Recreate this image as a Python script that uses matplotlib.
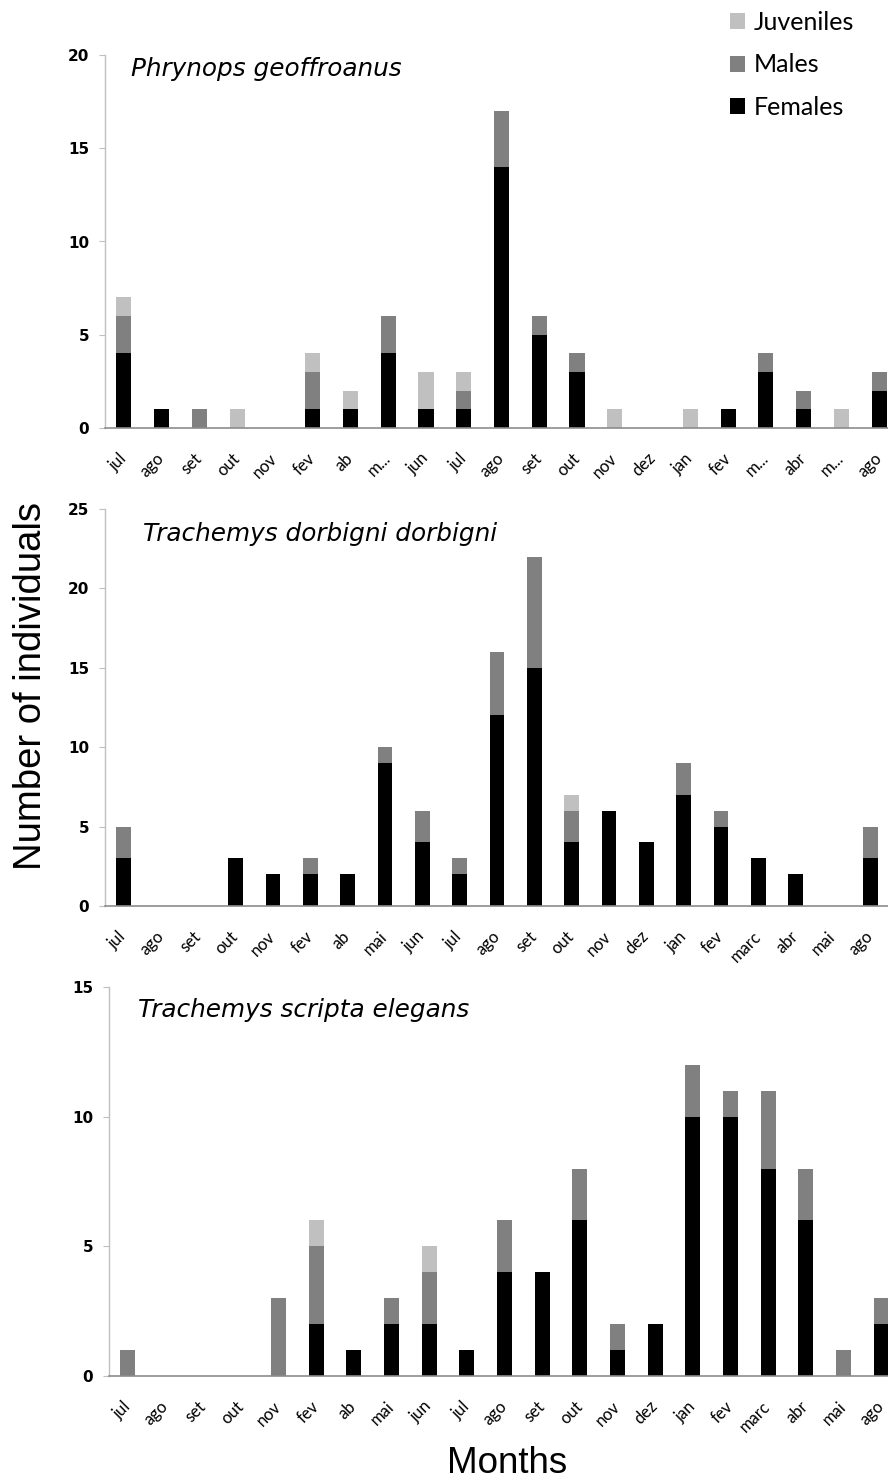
import matplotlib
matplotlib.use("Agg")
import matplotlib.pyplot as plt
from matplotlib.patches import Patch
import numpy as np

months_top = ["jul", "ago", "set", "out", "nov", "fev", "ab", "m...", "jun", "jul", "ago",
              "set", "out", "nov", "dez", "jan", "fev", "m...", "abr", "m...", "ago"]
months_mid = ["jul", "ago", "set", "out", "nov", "fev", "ab", "mai", "jun", "jul", "ago",
              "set", "out", "nov", "dez", "jan", "fev", "marc", "abr", "mai", "ago"]
months_bot = months_mid

# Phrynops geoffroanus
pg_females = [4, 1, 0, 0, 0, 1, 1, 4, 1, 1, 14, 5, 3, 0, 0, 0, 1, 3, 1, 0, 2]
pg_males = [2, 0, 1, 0, 0, 2, 0, 2, 0, 1, 3, 1, 1, 0, 0, 0, 0, 1, 1, 0, 1]
pg_juveniles = [1, 0, 0, 1, 0, 1, 1, 0, 2, 1, 0, 0, 0, 1, 0, 1, 0, 0, 0, 1, 0]

# Trachemys dorbigni dorbigni
td_females = [3, 0, 0, 3, 2, 2, 2, 9, 4, 2, 12, 15, 4, 6, 4, 7, 5, 3, 2, 0, 3]
td_males = [2, 0, 0, 0, 0, 1, 0, 1, 2, 1, 4, 7, 2, 0, 0, 2, 1, 0, 0, 0, 2]
td_juveniles = [0, 0, 0, 0, 0, 0, 0, 0, 0, 0, 0, 0, 1, 0, 0, 0, 0, 0, 0, 0, 0]

# Trachemys scripta elegans
ts_females = [0, 0, 0, 0, 0, 2, 1, 2, 2, 1, 4, 4, 6, 1, 2, 10, 10, 8, 6, 0, 2]
ts_males = [1, 0, 0, 0, 3, 3, 0, 1, 2, 0, 2, 0, 2, 1, 0, 2, 1, 3, 2, 1, 1]
ts_juveniles = [0, 0, 0, 0, 0, 1, 0, 0, 1, 0, 0, 0, 0, 0, 0, 0, 0, 0, 0, 0, 0]

titles = ["Phrynops geoffroanus", "Trachemys dorbigni dorbigni", "Trachemys scripta elegans"]
ymaxes = [20, 25, 15]

C_FEM = "#000000"
C_MAL = "#808080"
C_JUV = "#c0c0c0"

W, H = 888, 1481
fig = plt.figure(figsize=(W / 100, H / 100), dpi=100)

def fx(px):
    return px / W

def fy(py):
    return 1 - py / H

# axes rects in pixels: left, top(y of max), right, bottom(baseline)
rects = [
    (105, 55, 898, 428),
    (105, 509, 889, 906),
    (109, 987, 900, 1376),
]
title_pos = [(131, 76), (143, 541), (138, 1017)]

panels = [
    (months_top, pg_females, pg_males, pg_juveniles),
    (months_mid, td_females, td_males, td_juveniles),
    (months_bot, ts_females, ts_males, ts_juveniles),
]

for i, (labels, fem, mal, juv) in enumerate(panels):
    l, t, r, b = rects[i]
    ax = fig.add_axes([fx(l), fy(b), (r - l) / W, (b - t) / H])
    x = np.arange(len(labels))
    fem = np.array(fem)
    mal = np.array(mal)
    juv = np.array(juv)
    ax.bar(x, fem, width=0.4, color=C_FEM, linewidth=0)
    ax.bar(x, mal, width=0.4, bottom=fem, color=C_MAL, linewidth=0)
    ax.bar(x, juv, width=0.4, bottom=fem + mal, color=C_JUV, linewidth=0)
    ax.set_xlim(-0.5, len(labels) - 0.5)
    ax.set_ylim(0, ymaxes[i])
    ax.set_yticks(np.arange(0, ymaxes[i] + 1, 5))
    for sp in ["top", "right"]:
        ax.spines[sp].set_visible(False)
    ax.spines["left"].set_color("#bfbfbf")
    ax.spines["left"].set_linewidth(1.0)
    ax.spines["bottom"].set_color("#8c8c8c")
    ax.spines["bottom"].set_linewidth(1.2)
    ax.tick_params(axis="y", direction="out", length=4.3, width=0.8, color="#bfbfbf", pad=7)
    for lab in ax.get_yticklabels():
        lab.set_fontfamily("DejaVu Sans")
        lab.set_fontweight("bold")
        lab.set_fontsize(11)
    ax.set_xticks(x)
    ax.set_xticklabels(labels, rotation=45, ha="right", va="center",
                       rotation_mode="anchor", fontfamily="Lato", fontsize=12)
    ax.tick_params(axis="x", length=0, pad=20)
    ax.patch.set_alpha(0)
    tx, ty = title_pos[i]
    fig.text(fx(tx), fy(ty), titles[i], fontfamily="DejaVu Sans", style="italic",
             fontsize=17.8, ha="left", va="baseline")

fig.text(fx(31), fy(686), "Number of individuals", rotation=90, ha="center", va="center",
         fontfamily="Liberation Sans", fontsize=27.5)
fig.text(fx(507), fy(1473), "Months", ha="center", va="baseline",
         fontfamily="Liberation Sans", fontsize=26.5)

handles = [Patch(facecolor=C_JUV, edgecolor="none"),
           Patch(facecolor=C_MAL, edgecolor="none"),
           Patch(facecolor=C_FEM, edgecolor="none")]
fig.legend(handles, ["Juveniles", "Males", "Females"], loc="upper left",
           bbox_to_anchor=(fx(730), fy(11)), frameon=False, borderpad=0,
           borderaxespad=0, handlelength=0.6, handleheight=0.6, handletextpad=0.35,
           labelspacing=0.78, prop={"family": "Lato", "size": 18})

fig.savefig("out.png", dpi=100)
